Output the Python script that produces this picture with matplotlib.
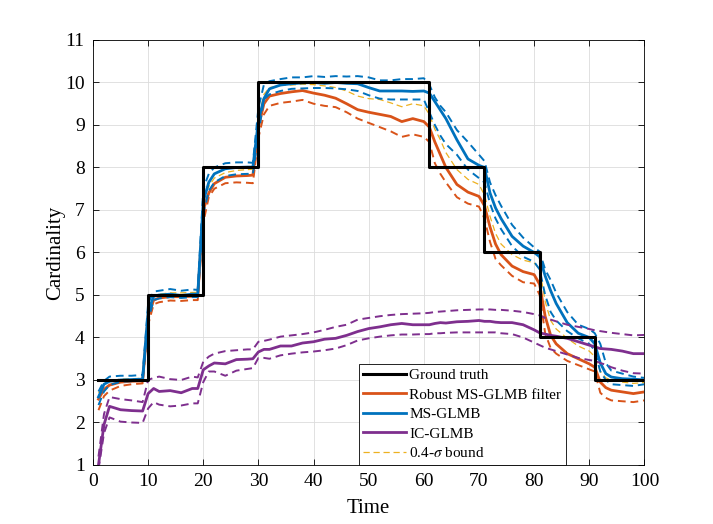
import numpy as np
import matplotlib
matplotlib.use('Agg')
import matplotlib.pyplot as plt

# ---- data ----
truth_t = [1, 10, 20, 30, 61, 71, 81, 91, 100]
truth_n = [3, 5, 8, 10, 8, 6, 4, 3, 3]

t = [1, 2, 3, 5, 7, 9,
     10, 11, 12, 14, 16, 18, 19,
     20, 21, 22, 24, 26, 28, 29,
     30, 31, 32, 34, 36, 38, 40,
     42, 44, 46, 48, 50,
     52, 54, 56, 58, 60,
     61, 62, 63, 64, 66, 68, 70,
     71, 72, 73, 74, 76, 78, 80,
     81, 82, 83, 84, 86, 88, 90,
     91, 92, 93, 94, 96, 98, 100]

ms_mean = [2.6, 2.9, 2.97, 3.0, 3.01, 3.02,
           4.6, 4.97, 5.0, 5.02, 4.99, 5.02, 5.02,
           7.2, 7.65, 7.85, 7.97, 8.0, 8.01, 8.01,
           9.1, 9.62, 9.85, 9.94, 9.97, 9.99, 10.0,
           9.98, 10.0, 9.98, 9.97, 9.88,
           9.8, 9.8, 9.8, 9.79, 9.8,
           9.75, 9.55, 9.35, 9.15, 8.65, 8.2, 8.05,
           8.0, 7.4, 7.05, 6.8, 6.38, 6.15, 6.0,
           5.9, 5.45, 5.1, 4.8, 4.35, 4.1, 4.0,
           3.85, 3.4, 3.15, 3.07, 3.03, 3.02, 3.0]
ms_up = [2.73, 2.98, 3.08, 3.1, 3.1, 3.12,
         4.8, 5.08, 5.1, 5.14, 5.1, 5.13, 5.12,
         7.5, 7.85, 8.0, 8.1, 8.12, 8.12, 8.11,
         9.4, 9.95, 10.03, 10.08, 10.12, 10.12, 10.15,
         10.13, 10.15, 10.14, 10.15, 10.12,
         10.05, 10.05, 10.08, 10.08, 10.1,
         9.95, 9.65, 9.45, 9.3, 8.88, 8.6, 8.3,
         8.15, 7.65, 7.35, 7.1, 6.65, 6.35, 6.12,
         6.02, 5.6, 5.35, 5.05, 4.6, 4.3, 4.2,
         4.1, 3.85, 3.4, 3.22, 3.15, 3.08, 3.05]
ms_lo = [2.41, 2.73, 2.88, 2.96, 2.97, 2.98,
         4.4, 4.88, 4.92, 4.95, 4.93, 4.95, 4.95,
         6.9, 7.45, 7.65, 7.8, 7.84, 7.85, 7.85,
         8.8, 9.6, 9.72, 9.8, 9.85, 9.86, 9.87,
         9.87, 9.86, 9.84, 9.8, 9.7,
         9.62, 9.6, 9.6, 9.6, 9.6,
         9.3, 9.0, 8.75, 8.55, 8.3, 7.95, 7.75,
         7.65, 7.15, 6.8, 6.55, 6.15, 5.9, 5.78,
         5.6, 5.0, 4.6, 4.4, 4.15, 3.98, 3.85,
         3.7, 3.2, 3.0, 2.9, 2.88, 2.86, 2.9]

rob_mean = [2.55, 2.78, 2.88, 2.95, 2.97, 2.98,
            4.5, 4.88, 4.93, 4.96, 4.96, 4.97, 4.97,
            7.0, 7.4, 7.62, 7.77, 7.8, 7.81, 7.82,
            8.95, 9.5, 9.68, 9.74, 9.78, 9.81, 9.75,
            9.7, 9.63, 9.5, 9.36, 9.3,
            9.25, 9.2, 9.08, 9.15, 9.08,
            8.95, 8.6, 8.3, 8.0, 7.6, 7.42, 7.32,
            7.1, 6.6, 6.2, 5.95, 5.68, 5.55, 5.48,
            5.25, 4.5, 4.05, 3.85, 3.62, 3.5, 3.38,
            3.3, 2.95, 2.82, 2.76, 2.72, 2.68, 2.72]
rob_lo = [2.29, 2.62, 2.75, 2.86, 2.9, 2.92,
          4.3, 4.78, 4.83, 4.87, 4.86, 4.88, 4.88,
          6.7, 7.3, 7.5, 7.63, 7.65, 7.64, 7.63,
          8.7, 9.25, 9.45, 9.52, 9.55, 9.59, 9.5,
          9.45, 9.42, 9.3, 9.15, 9.05,
          8.95, 8.85, 8.72, 8.78, 8.72,
          8.6, 8.1, 7.85, 7.65, 7.3, 7.15, 7.08,
          6.8, 6.25, 5.85, 5.7, 5.45, 5.3, 5.27,
          5.0, 4.1, 3.75, 3.62, 3.45, 3.35, 3.25,
          3.2, 2.7, 2.58, 2.52, 2.5, 2.48, 2.52]
rob_up = [2.7, 2.9, 2.98, 3.02, 3.03, 3.04,
          4.6, 4.97, 5.02, 5.05, 5.05, 5.06, 5.06,
          7.25, 7.55, 7.75, 7.88, 7.93, 7.95, 7.96,
          9.15, 9.72, 9.88, 9.93, 9.94, 9.96, 9.95,
          9.92, 9.88, 9.8, 9.68, 9.62,
          9.6, 9.52, 9.43, 9.5, 9.45,
          9.25, 8.9, 8.65, 8.35, 7.95, 7.72, 7.6,
          7.35, 6.85, 6.45, 6.2, 5.95, 5.82, 5.76,
          5.6, 4.85, 4.4, 4.2, 3.98, 3.8, 3.68,
          3.55, 3.2, 3.05, 3.0, 2.95, 2.92, 2.94]

ic_mean = [1.0, 1.95, 2.38, 2.3, 2.28, 2.27,
           2.68, 2.8, 2.73, 2.75, 2.7, 2.8, 2.8,
           3.24, 3.33, 3.4, 3.38, 3.48, 3.49, 3.5,
           3.66, 3.72, 3.72, 3.8, 3.8, 3.87, 3.9,
           3.96, 3.98, 4.05, 4.14, 4.21,
           4.25, 4.3, 4.33, 4.3, 4.3,
           4.3, 4.33, 4.35, 4.34, 4.37, 4.38, 4.4,
           4.38, 4.38, 4.36, 4.35, 4.35, 4.3, 4.18,
           4.11, 4.08, 4.05, 4.03, 3.98, 3.9, 3.82,
           3.78, 3.74, 3.73, 3.72, 3.68, 3.62, 3.62]
ic_up = [1.2, 2.2, 2.6, 2.55, 2.52, 2.48,
         3.0, 3.05, 3.08, 3.02, 3.0, 3.08, 3.06,
         3.43, 3.55, 3.62, 3.68, 3.7, 3.72, 3.72,
         3.9, 3.92, 3.95, 4.02, 4.05, 4.08, 4.12,
         4.18, 4.25, 4.3, 4.42, 4.46,
         4.5, 4.53, 4.55, 4.56, 4.57,
         4.58, 4.6, 4.61, 4.62, 4.64, 4.65, 4.66,
         4.66, 4.66, 4.65, 4.65, 4.63, 4.6, 4.55,
         4.52, 4.46, 4.42, 4.38, 4.3, 4.25, 4.2,
         4.17, 4.15, 4.13, 4.11, 4.08, 4.05, 4.06]
ic_lo = [0.9, 1.75, 2.12, 2.02, 2.0, 1.99,
         2.33, 2.48, 2.42, 2.38, 2.4, 2.45, 2.45,
         2.95, 3.2, 3.2, 3.1, 3.22, 3.26, 3.28,
         3.52, 3.52, 3.5, 3.58, 3.62, 3.65, 3.67,
         3.7, 3.74, 3.82, 3.93, 3.98,
         4.02, 4.05, 4.07, 4.07, 4.08,
         4.08, 4.1, 4.1, 4.11, 4.12, 4.12, 4.12,
         4.12, 4.12, 4.12, 4.1, 4.08, 4.0, 3.88,
         3.82, 3.76, 3.72, 3.68, 3.6, 3.52, 3.47,
         3.45, 3.4, 3.36, 3.3, 3.22, 3.16, 3.15]

c_blue = '#0072BD'
c_orange = '#D95319'
c_yellow = '#EDB120'
c_purple = '#7E2F8E'

plt.rcParams['font.family'] = ['Liberation Serif', 'DejaVu Serif']
plt.rcParams['mathtext.fontset'] = 'stix'

fig = plt.figure(figsize=(7.13, 5.24), dpi=100)
ax = fig.add_axes([0.1304, 0.1126, 0.7734, 0.8111])

dash = (4, 2.5)
ax.step(truth_t, truth_n, where='post', color='k', lw=2.2, label='Ground truth', zorder=5)
ax.plot(t, rob_mean, color=c_orange, lw=2, label='Robust MS-GLMB filter', zorder=3)
ax.plot(t, rob_lo, color=c_orange, lw=1.4, dashes=dash, zorder=3)
ax.plot(t, ms_mean, color=c_blue, lw=2, label='MS-GLMB', zorder=4)
ax.plot(t, ms_up, color=c_blue, lw=1.4, dashes=dash, zorder=4)
ax.plot(t, ms_lo, color=c_blue, lw=1.4, dashes=dash, zorder=4)
ax.plot(t, ic_mean, color=c_purple, lw=2, label='IC-GLMB', zorder=4)
ax.plot(t, ic_up, color=c_purple, lw=1.4, dashes=dash, zorder=4)
ax.plot(t, ic_lo, color=c_purple, lw=1.4, dashes=dash, zorder=4)
ax.plot(t, rob_up, color=c_yellow, lw=0.9, dashes=(5, 3), label=r'0.4-$\sigma$ bound', zorder=3)

ax.set_xlim(0, 100)
ax.set_ylim(1, 11)
ax.set_xticks(np.arange(0, 101, 10))
ax.set_yticks(np.arange(1, 12, 1))
ax.grid(True, color='#dcdcdc', lw=0.6)
ax.set_axisbelow(True)
ax.tick_params(direction='in', top=True, right=True, labelsize=14, length=4, width=0.6, pad=6)
for s in ax.spines.values():
    s.set_linewidth(0.6)
ax.set_xlabel('Time', fontsize=15, labelpad=6)
ax.set_ylabel('Cardinality', fontsize=15, labelpad=0)

leg = ax.legend(loc='lower left', bbox_to_anchor=(0.482, 0.0), borderaxespad=0,
                fancybox=False, framealpha=1, edgecolor='k', fontsize=11,
                handlelength=2.8, handletextpad=0.2, labelspacing=0.38,
                borderpad=0.3)
leg.get_frame().set_linewidth(0.6)
leg.set_zorder(10)

plt.savefig('out.png', dpi=100)
